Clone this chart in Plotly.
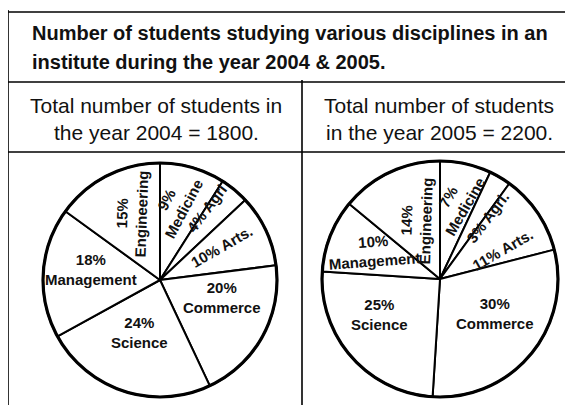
import math
import plotly.graph_objects as go

# ---------------- data ----------------
disciplines = ["Medicine", "Agri", "Arts", "Commerce", "Science", "Management", "Engineering"]
share_2004 = [9, 4, 10, 20, 24, 18, 15]
share_2005 = [7, 3, 11, 30, 25, 10, 14]
label_text_2004 = ["Medicine", "Agri", "Arts.", "Commerce", "Science", "Management", "Engineering"]
label_text_2005 = ["Medicine", "Agri.", "Arts.", "Commerce", "Science", "Management", "Engineering"]
total_2004 = 1800
total_2005 = 2200
title_lines = ["Number of students studying various disciplines in an",
               "institute during the year 2004 & 2005."]

# ---------------- layout constants (pixels of the 573x405 window) ----------------
W, H = 573, 405
OFF = 8  # page body margin
FW, FH = W - OFF, H - OFF
FONT = "Liberation Sans, Arial, sans-serif"
INK = "#111111"

def fx(x):
    return (x - OFF) / FW

def fy(y):
    return 1 - (y - OFF) / FH

# pie geometry: centre x, centre y, radius (pixels)
PIES = {
    "2004": dict(cx=160, cy=280, r=117),
    "2005": dict(cx=440, cy=279, r=118),
}

# per-label style: (two_lines, text angle, radial fraction, angular nudge in degrees)
STYLE_2004 = [(True, -62, 0.66, -5), (False, -53, 0.73, -6.6), (False, -30, 0.60, -3),
              (True, 0, 0.55, -13), (True, 0, 0.48, 3), (True, 0, 0.60, 5), (True, -88, 0.62, 4)]
STYLE_2005 = [(True, -60, 0.67, 0), (False, -53, 0.66, 7), (False, -30, 0.59, 9),
              (True, 0, 0.55, -7), (True, 0, 0.59, 11), (True, -4, 0.61, 1), (True, -88, 0.54, 3)]

fig = go.Figure()
annotations = []


def add_pie(values, texts, styles, geo, name):
    cx, cy, r = geo["cx"], geo["cy"], geo["r"]
    dom = dict(x=[fx(cx - r), fx(cx + r)], y=[fy(cy + r), fy(cy - r)])
    fig.add_trace(go.Pie(
        labels=disciplines, values=values, name=name, sort=False,
        direction="clockwise", rotation=0, domain=dom,
        marker=dict(colors=["white"] * len(values), line=dict(color="black", width=2)),
        textinfo="none", hovertemplate="%{label}: %{value}%<extra>" + name + "</extra>",
        showlegend=False,
    ))
    # thicker outer rim
    fig.add_trace(go.Pie(
        labels=["all"], values=[sum(values)], sort=False, domain=dom,
        marker=dict(colors=["rgba(0,0,0,0)"], line=dict(color="black", width=3.2)),
        textinfo="none", hoverinfo="skip", showlegend=False,
    ))
    total = sum(values)
    cum = 0
    for v, t, (two, ang, rf, dth) in zip(values, texts, styles):
        mid = (cum + v / 2) / total * 360 + dth
        cum += v
        x = cx + rf * r * math.sin(math.radians(mid))
        y = cy - rf * r * math.cos(math.radians(mid))
        txt = f"{v}%<br>{t}" if two else f"{v}% {t}"
        annotations.append(dict(
            x=fx(x), y=fy(y), xref="paper", yref="paper", text=txt, showarrow=False,
            textangle=ang, xanchor="center", yanchor="middle",
            font=dict(family=FONT, size=15, color=INK, weight="bold"),
        ))


add_pie(share_2004, label_text_2004, STYLE_2004, PIES["2004"], "2004")
add_pie(share_2005, label_text_2005, STYLE_2005, PIES["2005"], "2005")

# title
for line, yy in zip(title_lines, [33, 62]):
    annotations.append(dict(x=fx(30), y=fy(yy), xref="paper", yref="paper", text=line,
                            showarrow=False, xanchor="left", yanchor="middle",
                            font=dict(family=FONT, size=20, color=INK, weight="bold")))

# column headers
hdr_left = ["Total number of students in", f"the year 2004 = {total_2004}."]
hdr_right = ["Total number of students", f"in the year 2005 = {total_2005}."]
for lines, xc in ((hdr_left, 156), (hdr_right, 439)):
    for line, yy in zip(lines, [105, 132]):
        annotations.append(dict(x=fx(xc), y=fy(yy), xref="paper", yref="paper", text=line,
                                showarrow=False, xanchor="center", yanchor="middle",
                                font=dict(family=FONT, size=21, color=INK)))

# table rules
rules = [((8, 12), (573, 12)), ((8, 10), (8, 405)), ((8, 82), (573, 82)),
         ((8, 152), (573, 152)), ((302, 80), (302, 405))]
shapes = [dict(type="line", xref="paper", yref="paper", x0=fx(a[0]), y0=fy(a[1]),
               x1=fx(b[0]), y1=fy(b[1]), line=dict(color="black", width=1.6))
          for a, b in rules]

fig.update_layout(
    width=FW, height=FH, margin=dict(l=0, r=0, t=0, b=0),
    paper_bgcolor="white", plot_bgcolor="white",
    annotations=annotations, shapes=shapes, showlegend=False,
)

fig.write_html("out.html")
